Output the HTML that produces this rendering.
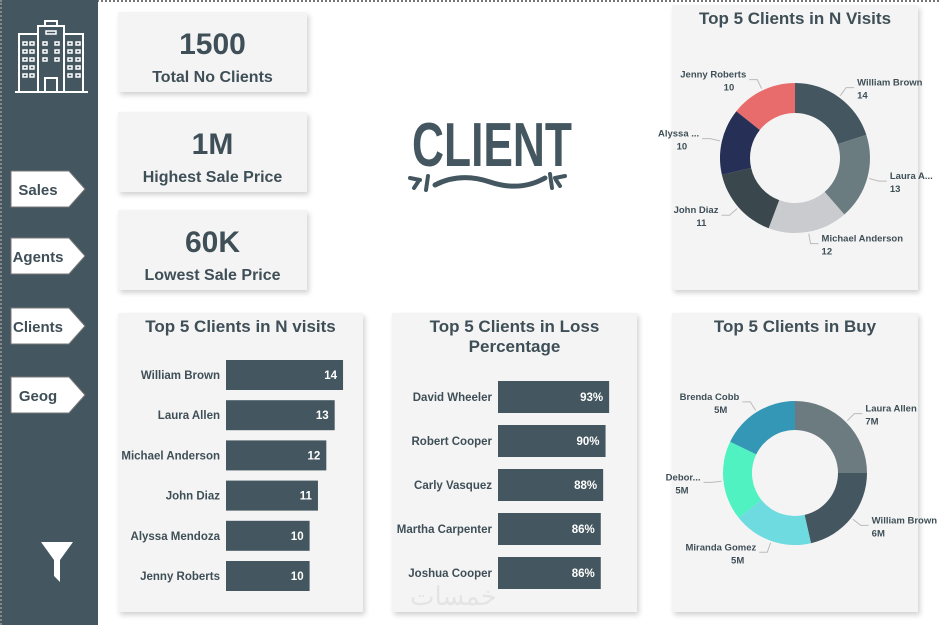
<!DOCTYPE html>
<html><head><meta charset="utf-8"><style>
*{margin:0;padding:0;box-sizing:border-box}
body{width:939px;height:625px;background:#fff;position:relative;overflow:hidden;font-family:"Liberation Sans",sans-serif;color:#3f4f57}
.side{position:absolute;left:0;top:0;width:98px;height:625px;background:#44565f;border-left:2px dotted #888}
.topline{position:absolute;left:0;top:0;width:939px;height:0;border-top:2px dotted #777}
.card{position:absolute;background:#f4f4f4;box-shadow:2px 3px 5px rgba(0,0,0,0.18)}
.kpi{text-align:center}
.kpi .v{font-size:30px;font-weight:bold;margin-top:16px;line-height:34px}
.kpi .l{font-size:16px;font-weight:bold;line-height:20px;margin-top:6px}
.nav{position:absolute;left:10px;width:76px;height:38px}
.title{position:absolute;width:100%;text-align:center;font-size:17px;font-weight:bold;line-height:20px}
</style></head><body>
<div class="topline"></div>
<div class="side">
<svg style="position:absolute;left:12px;top:20px" width="76" height="74" viewBox="0 0 76 74" fill="none" stroke="#fff" stroke-width="2">
<rect x="24" y="6" width="26" height="66"/><rect x="31" y="1" width="12" height="5"/><rect x="5" y="14" width="19" height="58"/><rect x="50" y="14" width="19" height="58"/>
<line x1="1" y1="72" x2="74" y2="72"/><rect x="31" y="58" width="12" height="14"/>
<g stroke-width="1.5"><rect x="9" y="22" width="4" height="3"/><rect x="16" y="22" width="4" height="3"/><rect x="9" y="30" width="4" height="3"/><rect x="16" y="30" width="4" height="3"/><rect x="9" y="38" width="4" height="3"/><rect x="16" y="38" width="4" height="3"/><rect x="9" y="46" width="4" height="3"/><rect x="16" y="46" width="4" height="3"/><rect x="9" y="54" width="4" height="3"/><rect x="16" y="54" width="4" height="3"/>
<rect x="54" y="22" width="4" height="3"/><rect x="62" y="22" width="4" height="3"/><rect x="54" y="30" width="4" height="3"/><rect x="62" y="30" width="4" height="3"/><rect x="54" y="38" width="4" height="3"/><rect x="62" y="38" width="4" height="3"/><rect x="54" y="46" width="4" height="3"/><rect x="62" y="46" width="4" height="3"/><rect x="54" y="54" width="4" height="3"/><rect x="62" y="54" width="4" height="3"/>
<rect x="29" y="22" width="4" height="3"/><rect x="41" y="22" width="4" height="3"/><rect x="29" y="30" width="4" height="3"/><rect x="41" y="30" width="4" height="3"/><rect x="29" y="38" width="4" height="3"/><rect x="41" y="38" width="4" height="3"/><rect x="32" y="11" width="10" height="3"/></g></svg>
<svg style="position:absolute;left:38px;top:540px" width="34" height="44" viewBox="0 0 34 44"><path d="M1 2h32L20 20v22l-6-6V20z" fill="#fff"/></svg>
</div>
<svg class="nav" style="top:170px" viewBox="0 0 76 38"><path d="M1 1h58l16 18-16 18H1z" fill="#fff" stroke="#777"/><text x="28" y="25" text-anchor="middle" font-size="15" font-weight="bold" fill="#3f4f57">Sales</text></svg>
<svg class="nav" style="top:237px" viewBox="0 0 76 38"><path d="M1 1h58l16 18-16 18H1z" fill="#fff" stroke="#777"/><text x="28" y="25" text-anchor="middle" font-size="15" font-weight="bold" fill="#3f4f57">Agents</text></svg>
<svg class="nav" style="top:307px" viewBox="0 0 76 38"><path d="M1 1h58l16 18-16 18H1z" fill="#fff" stroke="#777"/><text x="28" y="25" text-anchor="middle" font-size="15" font-weight="bold" fill="#3f4f57">Clients</text></svg>
<svg class="nav" style="top:376px" viewBox="0 0 76 38"><path d="M1 1h58l16 18-16 18H1z" fill="#fff" stroke="#777"/><text x="28" y="25" text-anchor="middle" font-size="15" font-weight="bold" fill="#3f4f57">Geog</text></svg>

<div class="card kpi" style="left:118px;top:12px;width:189px;height:80px"><div class="v">1500</div><div class="l">Total No Clients</div></div>
<div class="card kpi" style="left:118px;top:112px;width:189px;height:80px"><div class="v">1M</div><div class="l">Highest Sale Price</div></div>
<div class="card kpi" style="left:118px;top:210px;width:189px;height:80px"><div class="v">60K</div><div class="l">Lowest Sale Price</div></div>

<svg style="position:absolute;left:400px;top:100px" width="180" height="100" viewBox="0 0 180 100">
<text x="12" y="66" font-size="62" font-weight="bold" fill="#44565f" font-family="Liberation Sans, sans-serif" textLength="160" lengthAdjust="spacingAndGlyphs">CLIENT</text>
<path d="M35 85 Q60 72 90 82 Q120 92 145 78" stroke="#44565f" stroke-width="5" fill="none" stroke-linecap="round"/>
<path d="M10 78l10 2M14 88l4-6M28 76l-2 14" stroke="#44565f" stroke-width="4" stroke-linecap="round"/>
<path d="M165 76l-10 2M160 86l-4-6M150 74l2 14" stroke="#44565f" stroke-width="4" stroke-linecap="round"/>
</svg>

<div class="card" style="left:118px;top:313px;width:245px;height:299px"><div class="title" style="top:4px">Top 5 Clients in N visits</div></div>
<div class="card" style="left:392px;top:313px;width:245px;height:299px"><div class="title" style="top:4px">Top 5 Clients in Loss<br>Percentage</div></div>
<div class="card" style="left:672px;top:5px;width:246px;height:285px"><div class="title" style="top:4px">Top 5 Clients in N Visits</div></div>
<div class="card" style="left:672px;top:313px;width:246px;height:299px"><div class="title" style="top:4px">Top 5 Clients in Buy</div></div>
<div style="position:absolute;left:410px;top:582px;font-size:26px;color:#e4e4e4;font-family:'DejaVu Sans',sans-serif">خمسات</div>

<svg id="ch" width="939" height="625" style="position:absolute;left:0;top:0"></svg>
<script>
const visitNames=["William Brown","Laura Allen","Michael Anderson","John Diaz","Alyssa Mendoza","Jenny Roberts"];
const visitValues=[14,13,12,11,10,10];
const lossNames=["David Wheeler","Robert Cooper","Carly Vasquez","Martha Carpenter","Joshua Cooper"];
const lossValues=[93,90,88,86,86];
const donutVisitNames=["William Brown","Laura A...","Michael Anderson","John Diaz","Alyssa ...","Jenny Roberts"];
const donutVisitValues=[14,13,12,11,10,10];
const buyNames=["Laura Allen","William Brown","Miranda Gomez","Debor...","Brenda Cobb"];
const buyValues=[7,6,5,5,5];
const buyLabels=["7M","6M","5M","5M","5M"];
const NS="http://www.w3.org/2000/svg";
const svg=document.getElementById('ch');
function mk(t,a){const e=document.createElementNS(NS,t);for(const k in a)e.setAttribute(k,a[k]);svg.appendChild(e);return e;}
function txt(x,y,s,anchor,size,fill){const t=mk('text',{x:x,y:y,'text-anchor':anchor,'font-size':size,'font-weight':'bold',fill:fill||'#3f4f57','font-family':'Liberation Sans, sans-serif'});t.textContent=s;return t;}
const vx=v=>v*8.36;
visitNames.forEach((n,i)=>{const cy=375+i*40.2;
 const r=mk('rect',{x:226,y:cy-15,width:vx(visitValues[i]),height:30,fill:'#44565f'});
 
 
 const l=txt(220,cy+4,n,'end',11.5);
 
 
 const v=txt(226+vx(visitValues[i])-6,cy+4,String(visitValues[i]),'end',11.5,'#fff');
 
 
});
const lx=v=>v*1.195;
lossNames.forEach((n,i)=>{const cy=397+i*44;
 const r=mk('rect',{x:498,y:cy-16,width:lx(lossValues[i]),height:32,fill:'#44565f'});
 
 
 const l=txt(492,cy+4,n,'end',11.5);
 
 
 const v=txt(498+lx(lossValues[i])-6,cy+4,lossValues[i]+'%','end',11.5,'#fff');
 
 
});
function donut(cx,cy,R,r0,names,vals,labs,cols,nm){
 const tot=vals.reduce((a,b)=>a+b,0);let a0=0;
 names.forEach((n,i)=>{const a1=a0+vals[i]/tot*2*Math.PI;
  const P=(rr,a)=>[cx+rr*Math.sin(a),cy-rr*Math.cos(a)];
  const [x1,y1]=P(R,a0),[x2,y2]=P(R,a1),[x3,y3]=P(r0,a1),[x4,y4]=P(r0,a0);const lg=(a1-a0)>Math.PI?1:0;
  const p=mk('path',{d:`M${x1} ${y1}A${R} ${R} 0 ${lg} 1 ${x2} ${y2}L${x3} ${y3}A${r0} ${r0} 0 ${lg} 0 ${x4} ${y4}Z`,fill:cols[i]});
  
  
  const am=(a0+a1)/2;const [ex,ey]=P(R+2,am);const [fx,fy]=P(R+12,am);const right=Math.sin(am)>=0;
  const gx=fx+(right?8:-8);
  const ln=mk('polyline',{points:`${ex},${ey} ${fx},${fy} ${gx},${fy}`,fill:'none',stroke:'#bbb','stroke-width':1});
  
  
  const tx=gx+(right?3:-3),an=right?'start':'end';
  const t1=txt(tx,fy-2,n,an,9.5);
  
  
  const t2=txt(right?tx:tx-12,fy+11,labs[i],an,9.5);
  
  
  a0=a1;});
}
donut(795,158,75,45,donutVisitNames,donutVisitValues,donutVisitValues.map(String),['#44565f','#6b7c80','#c9cbce','#3a474d','#262f55','#e96c6c'],'visits-donut');
donut(795,473,72,43,buyNames,buyValues,buyLabels,['#6b7b80','#44565f','#6ddbe0','#4ff2c0','#3397b5'],'buy-donut');
</script>
</body></html>
